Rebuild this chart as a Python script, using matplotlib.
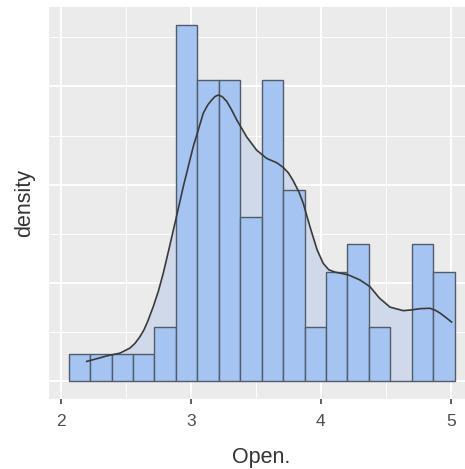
import numpy as np
import matplotlib.pyplot as plt
from matplotlib.ticker import FixedLocator

# histogram counts (18 bins)
bin_start = 2.059
bin_width = 0.165
counts = [1, 1, 1, 1, 2, 13, 11, 11, 6, 11, 7, 2, 4, 5, 2, 0, 5, 4]

# density curve
dens_x = [2.198, 2.30, 2.352, 2.454, 2.531, 2.570, 2.608, 2.640, 2.670, 2.710,
          2.750, 2.787, 2.830, 2.877, 2.941, 3.018, 3.060, 3.095, 3.130, 3.159,
          3.185, 3.210, 3.240, 3.275, 3.310, 3.352, 3.428, 3.505, 3.582, 3.659,
          3.710, 3.750, 3.787, 3.830, 3.864, 3.915, 3.970, 4.018, 4.060, 4.108,
          4.210, 4.300, 4.377, 4.450, 4.531, 4.633, 4.700, 4.762, 4.838, 4.880,
          4.915, 4.960, 5.005]
dens_y = [0.051, 0.060, 0.065, 0.072, 0.085, 0.097, 0.114, 0.132, 0.155, 0.190,
          0.230, 0.275, 0.335, 0.402, 0.495, 0.597, 0.643, 0.682, 0.703, 0.715,
          0.724, 0.728, 0.724, 0.712, 0.692, 0.665, 0.622, 0.588, 0.567, 0.556,
          0.544, 0.530, 0.510, 0.482, 0.453, 0.394, 0.335, 0.300, 0.284, 0.278,
          0.271, 0.258, 0.241, 0.212, 0.189, 0.180, 0.182, 0.185, 0.186, 0.181,
          0.174, 0.163, 0.151]

x_ticks = [2, 3, 4, 5]
x_minor = [2.5, 3.5, 4.5]
y_major = [0, 0.25, 0.5, 0.75]
y_minor = [0.125, 0.375, 0.625, 0.875]

counts = np.array(counts)
edges = bin_start + bin_width * np.arange(len(counts))
bar_dens = counts / (counts.sum() * bin_width)

plt.rcParams['font.family'] = ['Liberation Sans', 'DejaVu Sans']

fig = plt.figure(figsize=(4.65, 4.69), dpi=100)
# panel runs past the right edge of the image, as in the reference
ax = fig.add_axes([49.3 / 465, 1 - 399.3 / 469, (474 - 49.3) / 465, 392 / 469])
ax.set_facecolor('#EBEBEB')

ax.fill_between(dens_x, dens_y, color='#CFD9EA', linewidth=0, zorder=1)
ax.bar(edges, bar_dens, width=bin_width, align='edge', color='#A5C4F1',
       edgecolor='#515C6B', linewidth=1.0, zorder=2)
ax.plot(dens_x, dens_y, color='#3A3A3A', linewidth=1.2, zorder=3)

x_lo, x_hi = edges[0], edges[-1] + bin_width
pad = 0.05 * (x_hi - x_lo)
ax.set_xlim(x_lo - pad, x_hi + pad)
y_top = bar_dens.max()
ax.set_ylim(-0.05 * y_top, 1.05 * y_top)

ax.xaxis.set_major_locator(FixedLocator(x_ticks))
ax.xaxis.set_minor_locator(FixedLocator(x_minor))
ax.yaxis.set_major_locator(FixedLocator(y_major))
ax.yaxis.set_minor_locator(FixedLocator(y_minor))
ax.grid(which='major', color='white', linewidth=1.3, zorder=0)
ax.grid(which='minor', color='white', linewidth=0.65, zorder=0)
ax.set_axisbelow(True)

ax.tick_params(axis='x', which='major', length=3.5, width=1.1, color='#333333',
               labelsize=12.5, labelcolor='#4D4D4D', pad=7)
ax.tick_params(axis='x', which='minor', length=0)
ax.tick_params(axis='y', which='both', length=0, labelleft=False)
for s in ax.spines.values():
    s.set_visible(False)

ax.set_xlabel('Open.', fontsize=15.5, color='#333333', labelpad=13)
ax.set_ylabel('density', fontsize=15.5, color='#333333', labelpad=10)

fig.savefig('out.png', dpi=100)
